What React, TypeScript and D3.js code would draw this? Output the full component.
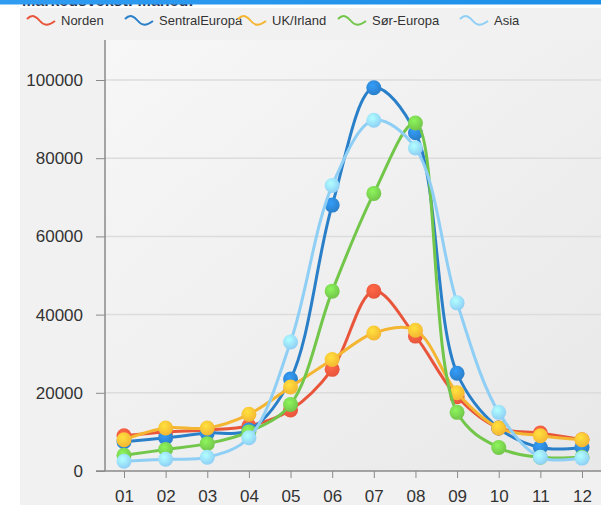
import React, { useEffect, useRef } from 'react';
import * as d3 from 'd3';

const months = ['01', '02', '03', '04', '05', '06', '07', '08', '09', '10', '11', '12'];
const seriesNames = ['Norden', 'SentralEuropa', 'UK/Irland', 'Sør-Europa', 'Asia'];
const seriesColors = ['#e8553a', '#2a7fc9', '#f4b632', '#72c64a', '#8fcff5'];

const norden = [9000, 10000, 10500, 11500, 15600, 26000, 46000, 34500, 19000, 11000, 9700, 8000];
const sentralEuropa = [7500, 8500, 9700, 10500, 23500, 68000, 98000, 86500, 25000, 11000, 6000, 6000];
const ukIrland = [8000, 11000, 11000, 14500, 21500, 28500, 35300, 36000, 20000, 11000, 9000, 8000];
const sorEuropa = [4000, 5500, 7000, 10000, 17000, 46000, 71000, 89000, 15000, 6000, 3500, 3500];
const asia = [2500, 3000, 3500, 8500, 33000, 73000, 89700, 82600, 43000, 15000, 3500, 3300];

const allSeries = [norden, sentralEuropa, ukIrland, sorEuropa, asia];
const yTicks = [0, 20000, 40000, 60000, 80000, 100000];

const W = 601;
const H = 505;

export default function App() {
  const svgRef = useRef<SVGSVGElement>(null);

  useEffect(() => {
    if (!svgRef.current) return;
    const svg = d3.select(svgRef.current);
    svg.selectAll('*').remove();

    const defs = svg.append('defs');
    const bg = defs.append('linearGradient').attr('id', 'bg').attr('x1', 0).attr('y1', 0).attr('x2', 1).attr('y2', 1);
    bg.append('stop').attr('offset', '0%').attr('stop-color', '#f7f7f7');
    bg.append('stop').attr('offset', '100%').attr('stop-color', '#e8e8e8');
    const bar = defs.append('linearGradient').attr('id', 'bar').attr('x1', 0).attr('x2', 1);
    bar.append('stop').attr('offset', '0%').attr('stop-color', '#2f9cf2');
    bar.append('stop').attr('offset', '100%').attr('stop-color', '#1c8fe6');

    seriesColors.forEach((c, i) => {
      const g = defs.append('radialGradient').attr('id', `dot${i}`)
        .attr('cx', '40%').attr('cy', '35%').attr('r', '65%');
      g.append('stop').attr('offset', '0%').attr('stop-color', d3.color(c)!.brighter(0.6).formatHex());
      g.append('stop').attr('offset', '100%').attr('stop-color', c);
    });

    const font = 'Liberation Sans, Arial, sans-serif';

    // background panels
    svg.append('rect').attr('width', W).attr('height', H).attr('fill', '#ffffff');
    svg.append('rect').attr('x', 20).attr('y', 8).attr('width', W - 20).attr('height', H - 8).attr('fill', '#f1f1f1');
    svg.append('rect').attr('x', 105).attr('y', 40).attr('width', W - 105).attr('height', 431).attr('fill', 'url(#bg)');

    // title, mostly hidden under the blue bar
    svg.append('text').attr('x', 22).attr('y', 6)
      .attr('font-family', font).attr('font-size', 16).attr('font-weight', 'bold')
      .attr('fill', '#2b2f45').text('Markedsvekst: Måned:');
    svg.append('rect').attr('width', W).attr('height', 4.5).attr('fill', 'url(#bar)');

    const x = d3.scalePoint<string>().domain(months).range([124, 582]);
    const y = d3.scaleLinear().domain([0, 100000]).range([471, 80]);

    // grid
    svg.append('g').selectAll('line').data(yTicks.slice(1)).enter().append('line')
      .attr('x1', 105).attr('x2', W).attr('y1', d => y(d)).attr('y2', d => y(d))
      .attr('stroke', '#dcdcdc').attr('stroke-width', 1.5);

    // y axis
    const yAxis = svg.append('g').attr('transform', 'translate(105,0)')
      .call(d3.axisLeft(y).tickValues(yTicks).tickSize(9).tickPadding(13).tickFormat(d => `${d}`));
    yAxis.select('.domain').attr('stroke', '#8a8a8a').attr('stroke-width', 1.5).attr('d', 'M0,40V471');
    yAxis.selectAll('.tick line').attr('stroke', '#8a8a8a');
    yAxis.selectAll('text').attr('font-family', font).attr('font-size', 17).attr('fill', '#333');

    // x axis
    const xAxis = svg.append('g').attr('transform', 'translate(0,471)')
      .call(d3.axisBottom(x).tickSize(7).tickPadding(12));
    xAxis.select('.domain').attr('stroke', '#8a8a8a').attr('stroke-width', 1.5).attr('d', `M96,0H${W}`);
    xAxis.selectAll('.tick line').attr('stroke', '#8a8a8a');
    xAxis.selectAll('text').attr('font-family', font).attr('font-size', 17).attr('fill', '#333');

    // lines
    const line = d3.line<number>()
      .x((_d, i) => x(months[i])!)
      .y(d => y(d))
      .curve(d3.curveCatmullRom.alpha(0.5));

    allSeries.forEach((vals, si) => {
      const g = svg.append('g');
      g.append('path').attr('d', line(vals)!).attr('fill', 'none')
        .attr('stroke', seriesColors[si]).attr('stroke-width', 3);
      g.selectAll('circle').data(vals).enter().append('circle')
        .attr('cx', (_d, i) => x(months[i])!).attr('cy', d => y(d)).attr('r', 7.5)
        .attr('fill', `url(#dot${si})`);
    });

    // legend
    const legendX = [27, 125, 238, 338, 460];
    const lg = svg.append('g');
    seriesNames.forEach((name, i) => {
      const gx = legendX[i];
      lg.append('path')
        .attr('d', `M${gx},19 C${gx + 5},14 ${gx + 9},16 ${gx + 13},21 S${gx + 21},26 ${gx + 28},21`)
        .attr('fill', 'none').attr('stroke', seriesColors[i]).attr('stroke-width', 2);
      lg.append('text').attr('x', gx + 34).attr('y', 25)
        .attr('font-family', font).attr('font-size', 13).attr('fill', '#333').text(name);
    });
  }, []);

  return (
    <svg ref={svgRef} width={W} height={H} style={{ position: 'absolute', left: 0, top: 0, display: 'block' }} />
  );
}
